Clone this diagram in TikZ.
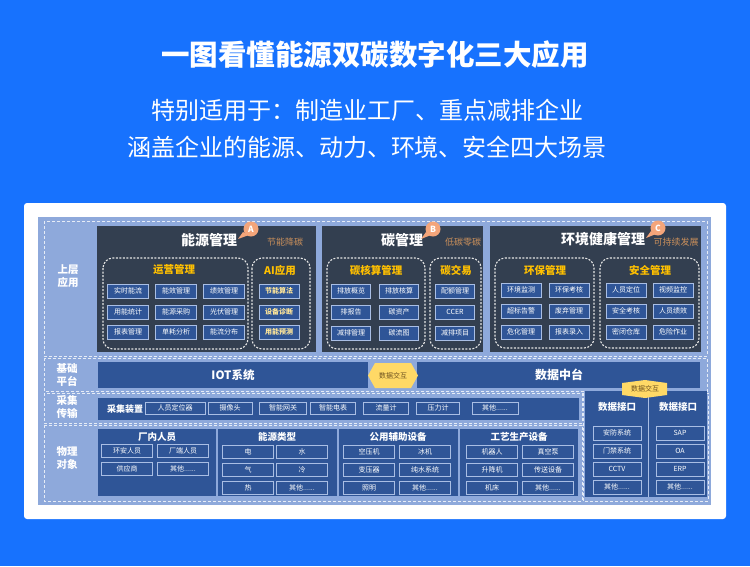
\documentclass[tikz,border=0pt]{standalone}
\usepackage{fontspec}
\setmainfont{Noto Sans CJK SC}
\definecolor{bgblue}{HTML}{1772FE}
\definecolor{lightbg}{HTML}{8EA9DB}
\definecolor{darkpanel}{HTML}{333F50}
\definecolor{navy}{HTML}{2F5597}
\definecolor{itemline}{HTML}{A9BEE4}
\definecolor{ytitle}{HTML}{FFC000}
\definecolor{tanc}{HTML}{C98F5B}
\definecolor{badgec}{HTML}{F4A57A}
\definecolor{goldc}{HTML}{FFD966}
\definecolor{dashcol}{HTML}{E6ECF6}
\definecolor{aitext}{HTML}{FFE699}
\definecolor{browntext}{HTML}{6B5020}
\tikzset{
  sec/.style={draw=dashcol, dash pattern=on 3pt off 2pt, line width=0.9pt},
  grp/.style={draw=white!80!gray, dash pattern=on 2pt off 1.5pt, line width=1.1pt, rounded corners=10pt},
  upitem/.style={draw=itemline, fill=navy, line width=0.8pt, minimum height=14pt, inner sep=0pt, text=white, font=\fontsize{7}{8}\selectfont},
  loitem/.style={draw=itemline, line width=0.7pt, minimum width=51pt, minimum height=13pt, inner sep=0pt, text=white, font=\fontsize{7}{8}\selectfont},
  caitem/.style={draw=itemline, line width=0.7pt, minimum height=12pt, inner sep=0pt, text=white, font=\fontsize{7}{8}\selectfont},
  daitem/.style={draw=itemline, line width=0.7pt, minimum width=48pt, minimum height=14pt, inner sep=0pt, text=white, font=\fontsize{7}{8}\selectfont},
  ptitle/.style={text=white, font=\bfseries\fontsize{14}{16}\selectfont, inner sep=0pt},
  gtitle/.style={text=ytitle, font=\bfseries\fontsize{10.5}{12}\selectfont, inner sep=0pt},
  tag/.style={text=tanc, font=\fontsize{9}{10}\selectfont, inner sep=0pt},
  lbl/.style={text=white, font=\bfseries\fontsize{10.5}{13}\selectfont, align=center, inner sep=0pt},
  stitle/.style={text=white, font=\bfseries\fontsize{9.5}{11}\selectfont, inner sep=0pt},
  badge/.style={circle, fill=badgec, text=white, font=\bfseries\fontsize{8.5}{9}\selectfont, minimum size=15pt, inner sep=0pt},
  dxtext/.style={text=browntext, font=\fontsize{7}{8}\selectfont, inner sep=0pt}
}
\begin{document}
\begin{tikzpicture}[x=1pt,y=-1pt]
\useasboundingbox (0,0) rectangle (750,566);
\fill[bgblue] (0,0) rectangle (750,566);
% headings
\node[text=white, font=\bfseries\fontsize{28.5}{31}\selectfont] (title) at (375,55) {一图看懂能源双碳数字化三大应用};
\node[text=white, font=\fontsize{24}{27}\selectfont] (sub1) at (367,110) {特别适用于：制造业工厂、重点减排企业};
\node[text=white, font=\fontsize{24}{27}\selectfont] (sub2) at (367,147) {涵盖企业的能源、动力、环境、安全四大场景};
% card
\fill[white, rounded corners=3pt] (24,203) rectangle (726,519);
\fill[lightbg] (38,217) rectangle (711,505);
% dashed sections
\draw[sec] (44,221) rectangle (707,356);
\draw[sec] (44,358) rectangle (707,391);
\draw[sec] (44,393) rectangle (582,423);
\draw[sec] (44,425) rectangle (582,501);
\draw[sec] (583,393) rectangle (708,501);
% left labels
\node[lbl] (l1) at (68,276) {上层\\应用};
\node[lbl] (l2) at (67,375) {基础\\平台};
\node[lbl] (l3) at (67,407) {采集\\传输};
\node[lbl] (l4) at (67,458) {物理\\对象};
% upper panels
\fill[darkpanel] (97,226) rectangle (316,352);
\fill[darkpanel] (322,226) rectangle (483,352);
\fill[darkpanel] (490,226) rectangle (701,352);
% panel A
\node[ptitle] (pa) at (209,240) {能源管理};
\fill[badgec] (243,232) -- (238,239) -- (249,235) -- cycle;
\node[badge] (ba) at (251,229) {A};
\node[tag] (ta) at (285,242) {节能降碳};
\draw[grp] (103,258) rectangle (248,349);
\draw[grp] (252,258) rectangle (310,349);
\node[gtitle] (ga1) at (174,270) {运营管理};
\node[gtitle] (ga2) at (280,270) {AI应用};
\node[upitem, minimum width=41pt] (a11) at (128,291) {实时能流};
\node[upitem, minimum width=41pt] (a12) at (176,291) {能效管理};
\node[upitem, minimum width=41pt] (a13) at (224,291) {绩效管理};
\node[upitem, minimum width=41pt] (a21) at (128,312) {用能统计};
\node[upitem, minimum width=41pt] (a22) at (176,312) {能源采购};
\node[upitem, minimum width=41pt] (a23) at (224,312) {光伏管理};
\node[upitem, minimum width=41pt] (a31) at (128,332) {报表管理};
\node[upitem, minimum width=41pt] (a32) at (176,332) {单耗分析};
\node[upitem, minimum width=41pt] (a33) at (224,332) {能流分布};
\node[upitem, minimum width=40pt, text=aitext, font=\bfseries\fontsize{7}{8}\selectfont] (ai1) at (279,291) {节能算法};
\node[upitem, minimum width=40pt, text=aitext, font=\bfseries\fontsize{7}{8}\selectfont] (ai2) at (279,312) {设备诊断};
\node[upitem, minimum width=40pt, text=aitext, font=\bfseries\fontsize{7}{8}\selectfont] (ai3) at (279,332) {用能预测};
% panel B
\node[ptitle] (pb) at (402,240) {碳管理};
\fill[badgec] (426,232) -- (421,239) -- (431,235) -- cycle;
\node[badge] (bb) at (433,229) {B};
\node[tag] (tb) at (463,242) {低碳零碳};
\draw[grp] (327,258) rectangle (425,349);
\draw[grp] (430,258) rectangle (481,349);
\node[gtitle] (gb1) at (376,270) {碳核算管理};
\node[gtitle] (gb2) at (456,270) {碳交易};
\node[upitem, minimum width=39pt] (b11) at (351,291) {排放概览};
\node[upitem, minimum width=39pt] (b12) at (399,291) {排放核算};
\node[upitem, minimum width=39pt] (b21) at (351,312) {排报告};
\node[upitem, minimum width=39pt] (b22) at (399,312) {碳资产};
\node[upitem, minimum width=39pt] (b31) at (351,333) {减排管理};
\node[upitem, minimum width=39pt] (b32) at (399,333) {碳流图};
\node[upitem, minimum width=39pt] (c1) at (455,291) {配额管理};
\node[upitem, minimum width=39pt] (c2) at (455,312) {CCER};
\node[upitem, minimum width=39pt] (c3) at (455,333) {减排项目};
% panel C
\node[ptitle] (pc) at (603,239) {环境健康管理};
\fill[badgec] (651,231) -- (646,238) -- (656,234) -- cycle;
\node[badge] (bc) at (658,228) {C};
\node[tag] (tc) at (676,242) {可持续发展};
\draw[grp] (495,258) rectangle (594,348);
\draw[grp] (600,258) rectangle (699,348);
\node[gtitle] (gc1) at (545,270) {环保管理};
\node[gtitle] (gc2) at (650,270) {安全管理};
\node[upitem, minimum width=40pt] (e11) at (521,290) {环境监测};
\node[upitem, minimum width=40pt] (e12) at (569,290) {环保考核};
\node[upitem, minimum width=40pt] (e21) at (521,311) {超标告警};
\node[upitem, minimum width=40pt] (e22) at (569,311) {废弃管理};
\node[upitem, minimum width=40pt] (e31) at (521,332) {危化管理};
\node[upitem, minimum width=40pt] (e32) at (569,332) {报表录入};
\node[upitem, minimum width=40pt] (s11) at (626,290) {人员定位};
\node[upitem, minimum width=40pt] (s12) at (673,290) {视频监控};
\node[upitem, minimum width=40pt] (s21) at (626,311) {安全考核};
\node[upitem, minimum width=40pt] (s22) at (673,311) {人员绩效};
\node[upitem, minimum width=40pt] (s31) at (626,332) {密闭仓库};
\node[upitem, minimum width=40pt] (s32) at (673,332) {危险作业};
% base platform
\fill[navy] (98,362) rectangle (368,388);
\fill[navy] (417,362) rectangle (700,388);
\node[text=white, font=\bfseries\fontsize{11.5}{13}\selectfont] (iot) at (233,375) {IOT系统};
\node[text=white, font=\bfseries\fontsize{12}{14}\selectfont] (dmid) at (559,375) {数据中台};
\fill[goldc] (368,375.5) -- (375,363) -- (411,363) -- (418,375.5) -- (411,388) -- (375,388) -- cycle;
\node[dxtext] (dx1) at (393,375.5) {数据交互};
% collection strip
\fill[navy] (98,398) rectangle (579,420);
\node[text=white, font=\bfseries\fontsize{9}{10}\selectfont] (cj) at (125,409) {采集装置};
\node[caitem, minimum width=60pt] (k1) at (175,408) {人员定位器};
\node[caitem, minimum width=44pt] (k2) at (230,408) {摄像头};
\node[caitem, minimum width=47pt] (k3) at (283,408) {智能网关};
\node[caitem, minimum width=45pt] (k4) at (333,408) {智能电表};
\node[caitem, minimum width=45pt] (k5) at (386,408) {流量计};
\node[caitem, minimum width=43pt] (k6) at (438,408) {压力计};
\node[caitem, minimum width=46pt] (k7) at (495,408) {其他......};
% physical objects
\fill[navy] (98,429) rectangle (216,496);
\fill[navy] (218,429) rectangle (337,496);
\fill[navy] (339,429) rectangle (458,496);
\fill[navy] (460,429) rectangle (578,496);
\node[stitle] (p1) at (157,437) {厂内人员};
\node[loitem] (p11) at (127,451) {环安人员};
\node[loitem] (p12) at (183,451) {厂端人员};
\node[loitem] (p21) at (127,469) {供应商};
\node[loitem] (p22) at (183,469) {其他......};
\node[stitle] (q1) at (277,437) {能源类型};
\node[loitem] (q11) at (248,452) {电};
\node[loitem] (q12) at (302,452) {水};
\node[loitem] (q21) at (248,470) {气};
\node[loitem] (q22) at (302,470) {冷};
\node[loitem] (q31) at (248,488) {热};
\node[loitem] (q32) at (302,488) {其他......};
\node[stitle] (r1) at (398,437) {公用辅助设备};
\node[loitem] (r11) at (369,452) {空压机};
\node[loitem] (r12) at (425,452) {冰机};
\node[loitem] (r21) at (369,470) {变压器};
\node[loitem] (r22) at (425,470) {纯水系统};
\node[loitem] (r31) at (369,488) {照明};
\node[loitem] (r32) at (425,488) {其他......};
\node[stitle] (t1) at (519,437) {工艺生产设备};
\node[loitem] (t11) at (492,452) {机器人};
\node[loitem] (t12) at (548,452) {真空泵};
\node[loitem] (t21) at (492,470) {升降机};
\node[loitem] (t22) at (548,470) {传送设备};
\node[loitem] (t31) at (492,488) {机床};
\node[loitem] (t32) at (548,488) {其他......};
% data interfaces
\fill[navy] (585,391) rectangle (707,497);
\draw[itemline, line width=0.7pt] (648,391) -- (648,497);
\node[stitle] (d1) at (617,407) {数据接口};
\node[stitle] (d2) at (678,407) {数据接口};
\node[daitem] (d11) at (617,433) {安防系统};
\node[daitem] (d12) at (617,451) {门禁系统};
\node[daitem] (d13) at (617,469) {CCTV};
\node[daitem] (d14) at (617,487) {其他......};
\node[daitem] (d21) at (680,433) {SAP};
\node[daitem] (d22) at (680,451) {OA};
\node[daitem] (d23) at (680,469) {ERP};
\node[daitem] (d24) at (680,487) {其他......};
\fill[goldc] (622,383) -- (645,380) -- (667,383) -- (667,395) -- (645,398) -- (622,395) -- cycle;
\node[dxtext] (dx2) at (645,389) {数据交互};
\end{tikzpicture}
\end{document}
